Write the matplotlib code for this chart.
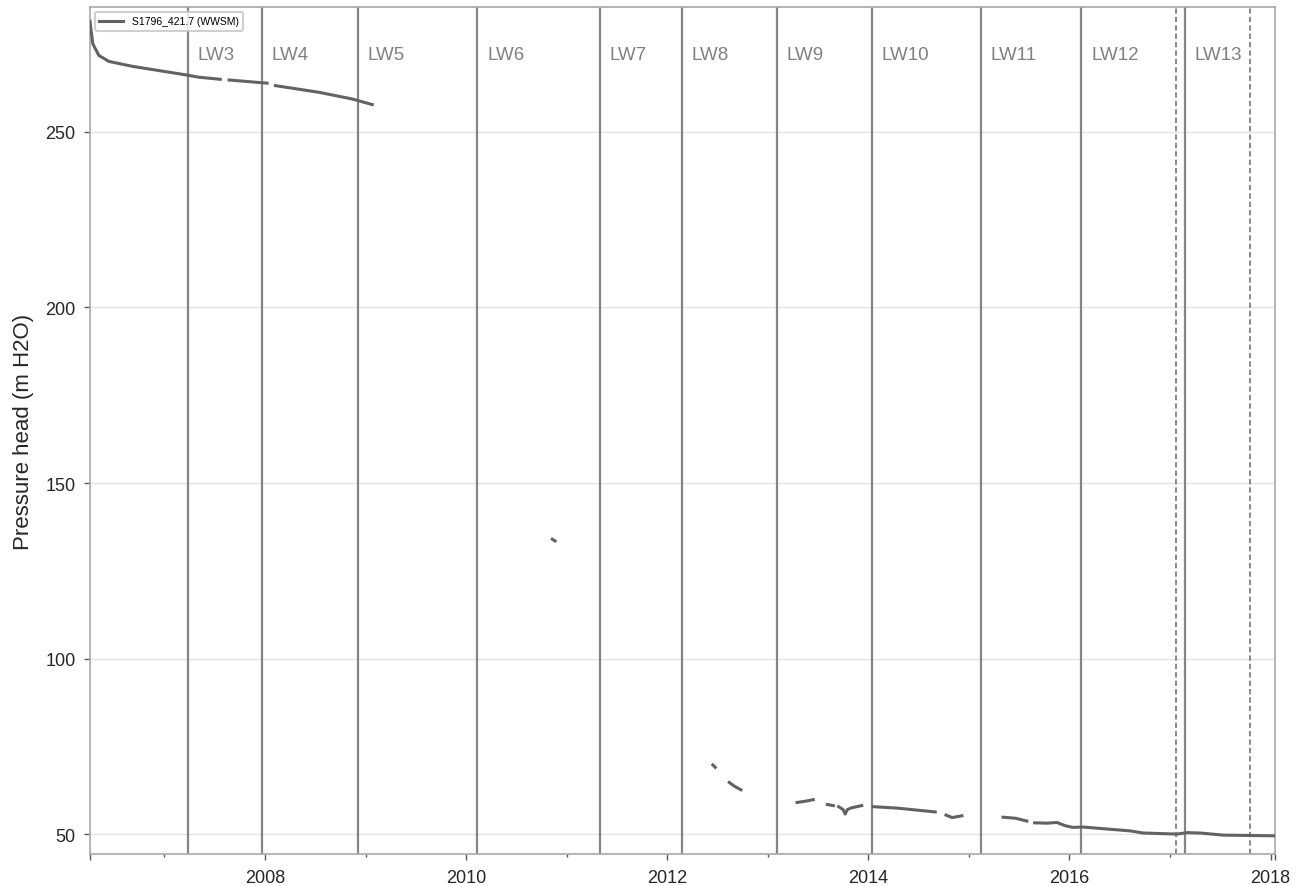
import numpy as np
import pandas as pd
import matplotlib
matplotlib.use("Agg")
import matplotlib.pyplot as plt
import matplotlib.dates as mdates

plt.rcParams['font.family'] = ['Liberation Sans', 'DejaVu Sans']

# piezometer record (NaN = gap in the logger data)
dates = ["2006-04-06", "2006-04-08", "2006-04-16", "2006-05-08", "2006-06-13",
         "2006-09-06", "2006-12-11", "2007-03-17", "2007-05-06", "2007-07-23",
         "2007-08-01",
         "2007-08-24", "2008-01-09",
         "2008-01-25",
         "2008-02-08", "2008-07-15", "2008-11-13", "2009-01-25",
         "2009-02-10",
         "2010-11-10", "2010-11-20",
         "2011-01-01",
         "2012-06-15", "2012-06-24",
         "2012-07-10",
         "2012-08-14", "2012-08-29", "2012-09-25",
         "2013-01-01",
         "2013-04-17", "2013-05-20", "2013-06-15",
         "2013-07-01",
         "2013-08-05", "2013-08-27",
         "2013-09-05",
         "2013-09-15", "2013-10-01", "2013-10-09", "2013-10-17", "2013-11-02", "2013-12-08",
         "2013-12-25",
         "2014-01-19", "2014-04-15", "2014-09-01",
         "2014-09-25",
         "2014-10-10", "2014-11-01", "2014-12-07",
         "2015-03-01",
         "2015-05-05", "2015-06-20", "2015-07-31",
         "2015-08-14",
         "2015-08-28", "2015-10-12", "2015-11-17", "2015-12-16", "2016-01-14",
         "2016-02-20", "2016-06-23", "2016-08-09", "2016-09-25", "2017-01-26",
         "2017-03-04", "2017-04-20", "2017-07-12", "2018-01-10", "2018-01-20"]
head = [281.5, 280.0, 275.1, 271.8, 270.1,
        268.7, 267.5, 266.3, 265.6, 265.0,
        np.nan,
        264.8, 263.9,
        np.nan,
        263.2, 261.3, 259.4, 257.8,
        np.nan,
        134.0, 133.5,
        np.nan,
        69.7, 69.0,
        np.nan,
        64.7, 63.8, 62.6,
        np.nan,
        59.0, 59.4, 59.8,
        np.nan,
        58.4, 58.1,
        np.nan,
        57.8, 57.0, 55.7, 57.0, 57.5, 58.1,
        np.nan,
        57.8, 57.4, 56.3,
        np.nan,
        55.4, 54.7, 55.2,
        np.nan,
        54.8, 54.5, 53.7,
        np.nan,
        53.2, 53.1, 53.3, 52.4, 51.9,
        52.0, 51.2, 50.9, 50.3, 50.0,
        50.4, 50.3, 49.7, 49.5, 49.5]

# longwall panel start dates
panels = ["LW3", "LW4", "LW5", "LW6", "LW7", "LW8", "LW9", "LW10", "LW11", "LW12", "LW13"]
panel_start = ["2007-03-28", "2007-12-20", "2008-12-03", "2010-02-11", "2011-05-03",
               "2012-02-24", "2013-02-04", "2014-01-15", "2015-02-13", "2016-02-14",
               "2017-02-24"]
dashed_dates = ["2017-01-23", "2017-10-19"]

t = pd.to_datetime(dates)
tp = pd.to_datetime(panel_start)
td = pd.to_datetime(dashed_dates)

fig = plt.figure(figsize=(13.07, 8.87), dpi=100)
ax = fig.add_axes([0.0689, 0.036, 0.9066, 0.955])

ax.yaxis.grid(True, color="#e3e3e3", lw=1.0, zorder=0)
ax.set_axisbelow(True)

ax.plot(t, head, color="#626262", lw=2.2, label="S1796_421.7 (WWSM)", zorder=3)

for name, d in zip(panels, tp):
    ax.axvline(d, color="#858585", lw=1.6, zorder=2)
    ax.annotate(name, xy=(mdates.date2num(d), 0.944), xycoords=ax.get_xaxis_transform(),
                xytext=(7, 0), textcoords="offset points",
                ha="left", va="center", fontsize=13.5, color="#808080")
for d in td:
    ax.axvline(d, color="#6a6a6a", lw=1.1, ls=(0, (3.5, 2)), zorder=2)

xmin = pd.Timestamp("2006-04-06")
xmax = pd.Timestamp("2018-01-17")
ax.set_xlim(xmin, xmax)
ax.set_ylim(44.3, 285.6)

major = [xmin] + [pd.Timestamp(f"{y}-01-01") for y in range(2008, 2019, 2)] + [xmax]
ax.set_xticks(major)
ax.set_xticklabels([""] + [str(y) for y in range(2008, 2019, 2)] + [""])
ax.set_xticks([pd.Timestamp(f"{y}-01-01") for y in range(2007, 2018, 2)], minor=True)
ax.set_yticks([50, 100, 150, 200, 250])

ax.tick_params(axis="both", which="major", length=4.5, width=1.0, color="#555555",
               labelsize=13, labelcolor="#262626", pad=6)
ax.tick_params(axis="x", which="minor", length=2.5, width=1.0, color="#555555")

for s in ax.spines.values():
    s.set_color("#a8a8a8")
    s.set_linewidth(1.2)

ax.set_ylabel("Pressure head (m H2O)", fontsize=16, color="#262626", labelpad=8)

leg = ax.legend(loc="upper left", fontsize=7.5, frameon=True, fancybox=True,
                handlelength=2.3, borderpad=0.4, bbox_to_anchor=(0.0, 1.0))
leg.get_frame().set_edgecolor("#c4c4c4")
leg.get_frame().set_linewidth(1.5)

fig.savefig("out.png", dpi=100)
